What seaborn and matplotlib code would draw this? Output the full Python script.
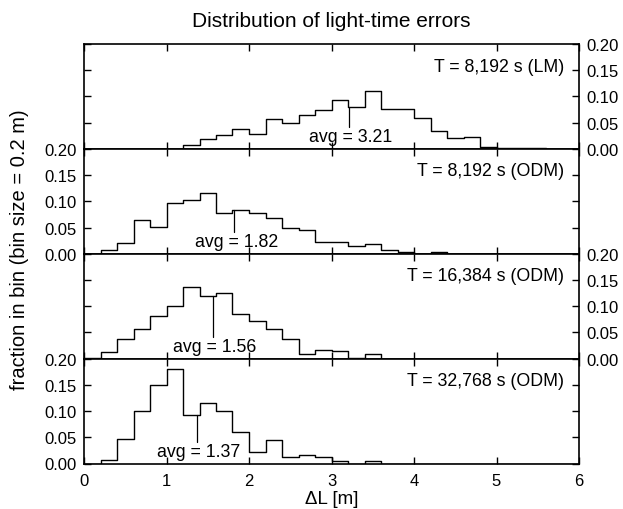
import numpy as np
import pandas as pd
import matplotlib
matplotlib.use("Agg")
import matplotlib.pyplot as plt
import seaborn as sns

# bin edges 0.0 .. 6.0 step 0.2 (30 bins), fraction per bin
edges = np.round(np.arange(0, 6.01, 0.2), 2)
centers = edges[:-1] + 0.1

lm_8192 = [0, 0, 0, 0, 0, 0, 0.007, 0.019, 0.027, 0.038,
           0.029, 0.057, 0.049, 0.065, 0.074, 0.093, 0.080, 0.110, 0.076, 0.076,
           0.058, 0.035, 0.021, 0.023, 0.004, 0.001, 0.002, 0.001, 0, 0]
odm_8192 = [0, 0.007, 0.021, 0.065, 0.051, 0.096, 0.102, 0.116, 0.078, 0.083,
            0.077, 0.069, 0.049, 0.046, 0.022, 0.022, 0.015, 0.019, 0.008, 0.003,
            0, 0.003, 0, 0, 0, 0, 0, 0, 0, 0]
odm_16384 = [0.001, 0.013, 0.037, 0.056, 0.081, 0.101, 0.136, 0.120, 0.125, 0.085,
             0.071, 0.057, 0.037, 0.009, 0.017, 0.014, 0.001, 0.008, 0, 0,
             0, 0, 0, 0, 0, 0, 0, 0, 0, 0]
odm_32768 = [0, 0.006, 0.046, 0.100, 0.149, 0.181, 0.093, 0.116, 0.101, 0.061,
             0.021, 0.045, 0.013, 0.017, 0.012, 0.005, 0, 0.005, 0, 0,
             0, 0, 0, 0, 0, 0, 0, 0, 0, 0]

labels = ["T = 8,192 s (LM)", "T = 8,192 s (ODM)",
          "T = 16,384 s (ODM)", "T = 32,768 s (ODM)"]
averages = [3.21, 1.82, 1.56, 1.37]
series = [lm_8192, odm_8192, odm_16384, odm_32768]

sns.set_style("ticks", {"xtick.direction": "in", "ytick.direction": "in",
                        "axes.edgecolor": "black", "text.color": "black",
                        "xtick.color": "black", "ytick.color": "black",
                        "axes.labelcolor": "black"})
plt.rcParams["font.family"] = ["Liberation Sans", "DejaVu Sans"]
plt.rcParams["axes.linewidth"] = 1.2

fig, axes = plt.subplots(4, 1, figsize=(6.23, 5.10), dpi=100, sharex=True)
fig.subplots_adjust(left=84/623, right=579/623, top=1-45/510, bottom=1-464.5/510, hspace=0)

for i, ax in enumerate(axes):
    df = pd.DataFrame({"dL": centers, "frac": series[i]})
    sns.histplot(data=df, x="dL", weights="frac", binwidth=0.2, binrange=(0, 6),
                 element="step", fill=False, color="black", linewidth=1.0, ax=ax)
    ax.set_xlim(0, 6)
    ax.set_ylim(0, 0.2)
    ax.set_yticks([0, 0.05, 0.1, 0.15, 0.2])
    ax.set_yticklabels(["0.00", "0.05", "0.10", "0.15", "0.20"])
    ax.set_xticks([0, 1, 2, 3, 4, 5, 6])
    ax.set_xlabel("")
    ax.set_ylabel("")
    right = (i % 2 == 0)
    ax.tick_params(axis="y", left=True, right=True, labelleft=not right,
                   labelright=right, direction="in", length=5, width=1.0,
                   pad=5, labelsize=12, colors="black")
    ax.tick_params(axis="x", top=True, bottom=True, direction="in", length=5,
                   width=1.0, pad=7, labelsize=12, colors="black",
                   labelbottom=(i == 3))
    for s in ax.spines.values():
        s.set_visible(True)
        s.set_color("black")
    ax.text(5.82, 0.158, labels[i], ha="right", va="center", fontsize=12.8,
            color="black")
    avg = averages[i]
    h = series[i][int(avg / 0.2)]
    ax.plot([avg, avg], [h, 0.0415], color="black", linewidth=0.9)
    ax.text(avg + 0.025, 0.0236, f"avg = {avg:.2f}", ha="center", va="center",
            fontsize=12.8, color="black")

fig.text(331.5/623, 1 - 500/510, "\u0394L [m]", ha="center", va="center",
         fontsize=13.5, color="black")
fig.text(20/623, 1 - 250/510, "fraction in bin (bin size = 0.2 m)", rotation=90,
         ha="center", va="center", fontsize=14.5, color="black")
fig.text(331.5/623, 1 - 27/510, "Distribution of light-time errors", ha="center",
         va="baseline", fontsize=15, color="black")

fig.savefig("out.png", dpi=100)
